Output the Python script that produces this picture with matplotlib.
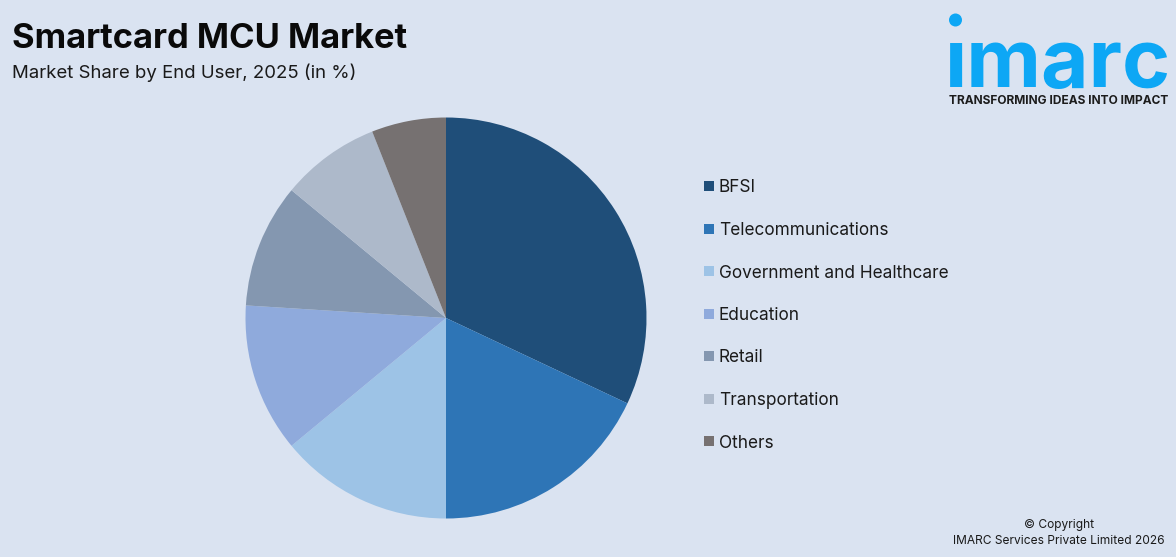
import matplotlib
matplotlib.use("Agg")
import matplotlib.pyplot as plt
from matplotlib.patches import Circle, Rectangle

W, H = 1176, 557
categories = ["BFSI", "Telecommunications", "Government and Healthcare",
              "Education", "Retail", "Transportation", "Others"]
shares = [32, 18, 14, 12, 10, 8, 6]
colors = ["#1F4E79", "#2E75B6", "#9DC3E6", "#8FAADC", "#8497B0", "#ADB9CA", "#767171"]
title = "Smartcard MCU Market"
subtitle = "Market Share by End User, 2025 (in %)"
tagline = "TRANSFORMING IDEAS INTO IMPACT"
copyright_lines = ["\u00a9 Copyright", "IMARC Services Private Limited 2026"]
BG = "#DAE3F1"
LOGO = "#0DA7F5"
TXT = "#1A1A1A"

plt.rcParams["font.family"] = ["Inter", "DejaVu Sans"]
fig = plt.figure(figsize=(W / 100, H / 100), dpi=100, facecolor=BG)

# overlay in pixel coordinates for texts and logo
ov = fig.add_axes([0, 0, 1, 1])
ov.set_xlim(0, W); ov.set_ylim(H, 0); ov.axis("off")

# pie
cx, cy, r = 446, 318, 200.5
ax = fig.add_axes([(cx - r) / W, 1 - (cy + r) / H, 2 * r / W, 2 * r / H])
wedges, _ = ax.pie(shares, colors=colors, startangle=90, counterclock=False, radius=1,
                   wedgeprops=dict(linewidth=0))
ax.set_xlim(-1, 1); ax.set_ylim(-1, 1); ax.set_aspect("equal"); ax.axis("off")

# legend
leg_y0, leg_dy = 186, 42.5
for i, (c, col) in enumerate(zip(categories, colors)):
    y = leg_y0 + i * leg_dy
    ov.add_patch(Rectangle((704, y - 5), 10, 10, facecolor=col, edgecolor="none"))
    ov.text(719, y, c, fontsize=12.4, color=TXT, va="center_baseline", ha="left")

# headings
ov.text(12.5, 36, title, fontsize=24.85, fontweight="bold", color="#0A0A0A", va="center_baseline")
ov.text(12.5, 71, subtitle, fontsize=13.4, color=TXT, va="center_baseline")

# logo
ov.add_patch(Circle((955.5, 20), 6.5, facecolor=LOGO, edgecolor="none"))
ov.text(1058, 87, "\u0131marc", fontsize=59, fontweight="bold", color=LOGO,
        ha="center", va="baseline")
ov.text(1058.5, 100, tagline, fontsize=8.6, fontweight="bold", color="#1C1C1C",
        ha="center", va="center_baseline")

# copyright
ov.text(1059, 523.5, copyright_lines[0], fontsize=8.6, color=TXT, ha="center", va="center_baseline")
ov.text(1059, 540, copyright_lines[1], fontsize=8.6, color=TXT, ha="center", va="center_baseline")

fig.savefig("out.png", dpi=100, facecolor=BG)
